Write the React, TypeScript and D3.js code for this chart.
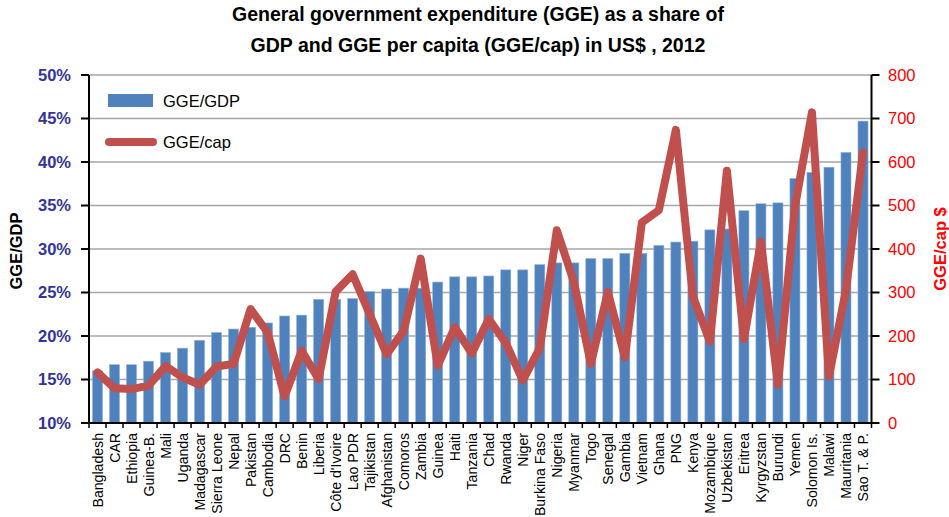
import { scaleBand, scaleLinear, line as d3line } from "d3";

const countries = [
  "Bangladesh", "CAR", "Ethiopia", "Guinea-B.", "Mali", "Uganda", "Madagascar",
  "Sierra Leone", "Nepal", "Pakistan", "Cambodia", "DRC", "Benin", "Liberia",
  "Côte d'Ivoire", "Lao PDR", "Tajikistan", "Afghanistan", "Comoros", "Zambia",
  "Guinea", "Haiti", "Tanzania", "Chad", "Rwanda", "Niger", "Burkina Faso",
  "Nigeria", "Myanmar", "Togo", "Senegal", "Gambia", "Vietnam", "Ghana", "PNG",
  "Kenya", "Mozambique", "Uzbekistan", "Eritrea", "Kyrgyzstan", "Burundi",
  "Yemen", "Solomon Is.", "Malawi", "Mauritania", "Sao T. & P.",
];

// GGE as % of GDP
const ggeGdp = [
  16.0, 16.7, 16.7, 17.1, 18.1, 18.6, 19.5, 20.4, 20.8, 21.0, 21.5, 22.3, 22.4,
  24.2, 24.2, 24.3, 25.1, 25.4, 25.5, 25.5, 26.2, 26.8, 26.8, 26.9, 27.6, 27.6,
  28.2, 28.4, 28.4, 28.9, 28.9, 29.5, 29.5, 30.4, 30.8, 30.9, 32.2, 32.3, 34.4,
  35.2, 35.3, 38.1, 38.8, 39.4, 41.1, 44.7,
];

// GGE per capita, US$
const ggeCap = [
  116, 80, 78, 86, 131, 105, 88, 130, 136, 262, 208, 61, 166, 101, 302, 342,
  250, 158, 212, 378, 132, 220, 160, 239, 184, 98, 172, 443, 325, 136, 301, 151,
  461, 489, 674, 291, 187, 580, 193, 417, 88, 498, 714, 107, 306, 622,
];

const leftTicks = [10, 15, 20, 25, 30, 35, 40, 45, 50];
const rightTicks = [0, 100, 200, 300, 400, 500, 600, 700, 800];

const W = 949;
const H = 517;
const left = 89;
const right = 871.5;
const top = 75;
const bottom = 423;

const font = "Arial, 'Liberation Sans', Helvetica, sans-serif";
const barColor = "#4f81bd";
const lineColor = "#c0504d";

export default function App() {
  const x = scaleBand<string>()
    .domain(countries)
    .range([left, right])
    .paddingInner(0.41)
    .paddingOuter(0.205);

  const yL = scaleLinear().domain([10, 50]).range([bottom, top]);
  const yR = scaleLinear().domain([0, 800]).range([bottom, top]);

  const capLine = d3line<number>()
    .x((_, i) => (x(countries[i]) ?? 0) + x.bandwidth() / 2)
    .y((d) => yR(d));

  const step = x.step();

  return (
    <svg
      width={W}
      height={H}
      style={{ position: "absolute", left: 0, top: 0, background: "#fff" }}
      fontFamily={font}
    >
      {/* title */}
      <text x={478} y={21} textAnchor="middle" fontSize={19.5} fontWeight="bold">
        General government expenditure (GGE) as a share of
      </text>
      <text x={478} y={51.5} textAnchor="middle" fontSize={19.5} fontWeight="bold">
        GDP and GGE per capita (GGE/cap) in US$ , 2012
      </text>

      {/* gridlines */}
      {leftTicks.slice(1).map((t) => (
        <line key={t} x1={left} x2={right} y1={yL(t)} y2={yL(t)} stroke="#a6a6a6" strokeWidth={1.5} />
      ))}

      {/* bars */}
      {ggeGdp.map((v, i) => (
        <rect
          key={countries[i]}
          x={x(countries[i])}
          y={yL(v)}
          width={x.bandwidth()}
          height={yL(10) - yL(v)}
          fill={barColor}
          stroke="#8fb0d8"
          strokeWidth={0.6}
        />
      ))}

      {/* per capita line */}
      <path
        d={capLine(ggeCap) ?? undefined}
        fill="none"
        stroke={lineColor}
        strokeWidth={8}
        strokeLinejoin="round"
        strokeLinecap="round"
      />

      {/* axes */}
      <line x1={left} x2={left} y1={top} y2={bottom} stroke="#000" strokeWidth={2} />
      <line x1={right} x2={right} y1={top} y2={bottom} stroke="#000" strokeWidth={2} />
      <line x1={left} x2={right} y1={bottom} y2={bottom} stroke="#000" strokeWidth={2} />

      {leftTicks.map((t) => (
        <g key={t}>
          <line x1={left - 8} x2={left} y1={yL(t)} y2={yL(t)} stroke="#000" strokeWidth={2} />
          <text
            x={71}
            y={yL(t)}
            dy="0.36em"
            textAnchor="end"
            fontSize={16.5}
            fontWeight="bold"
            fill="#333399"
          >
            {t}%
          </text>
        </g>
      ))}

      {rightTicks.map((t) => (
        <g key={t}>
          <line x1={right} x2={right + 8} y1={yR(t)} y2={yR(t)} stroke="#000" strokeWidth={2} />
          <text x={888} y={yR(t)} dy="0.36em" fontSize={16.5} fill="#ff0000">
            {t}
          </text>
        </g>
      ))}

      {/* category ticks and labels */}
      {countries.map((c, i) => {
        const bx = left + step * i;
        const cx = (x(c) ?? 0) + x.bandwidth() / 2;
        return (
          <g key={c}>
            <line x1={bx} x2={bx} y1={bottom} y2={bottom + 5} stroke="#000" strokeWidth={1.5} />
            {i === countries.length - 1 && (
              <line x1={right} x2={right} y1={bottom} y2={bottom + 5} stroke="#000" strokeWidth={1.5} />
            )}
            <text
              transform={`translate(${cx},433) rotate(-90)`}
              dy="0.36em"
              textAnchor="end"
              fontSize={14.1}
              fill="#000"
            >
              {c}
            </text>
          </g>
        );
      })}

      {/* axis titles */}
      <text
        transform="translate(16,251) rotate(-90)"
        dy="0.36em"
        textAnchor="middle"
        fontSize={16.5}
        fontWeight="bold"
      >
        GGE/GDP
      </text>
      <text
        transform="translate(940,249) rotate(-90)"
        dy="0.36em"
        textAnchor="middle"
        fontSize={16.5}
        fontWeight="bold"
        fill="#ff0000"
      >
        GGE/cap $
      </text>

      {/* legend */}
      <rect x={108} y={94} width={45} height={13} fill={barColor} />
      <text x={163} y={101} dy="0.36em" fontSize={16.5}>
        GGE/GDP
      </text>
      <line x1={109} x2={153} y1={142} y2={142} stroke={lineColor} strokeWidth={8} strokeLinecap="round" />
      <text x={163} y={142} dy="0.36em" fontSize={16.5}>
        GGE/cap
      </text>
    </svg>
  );
}
